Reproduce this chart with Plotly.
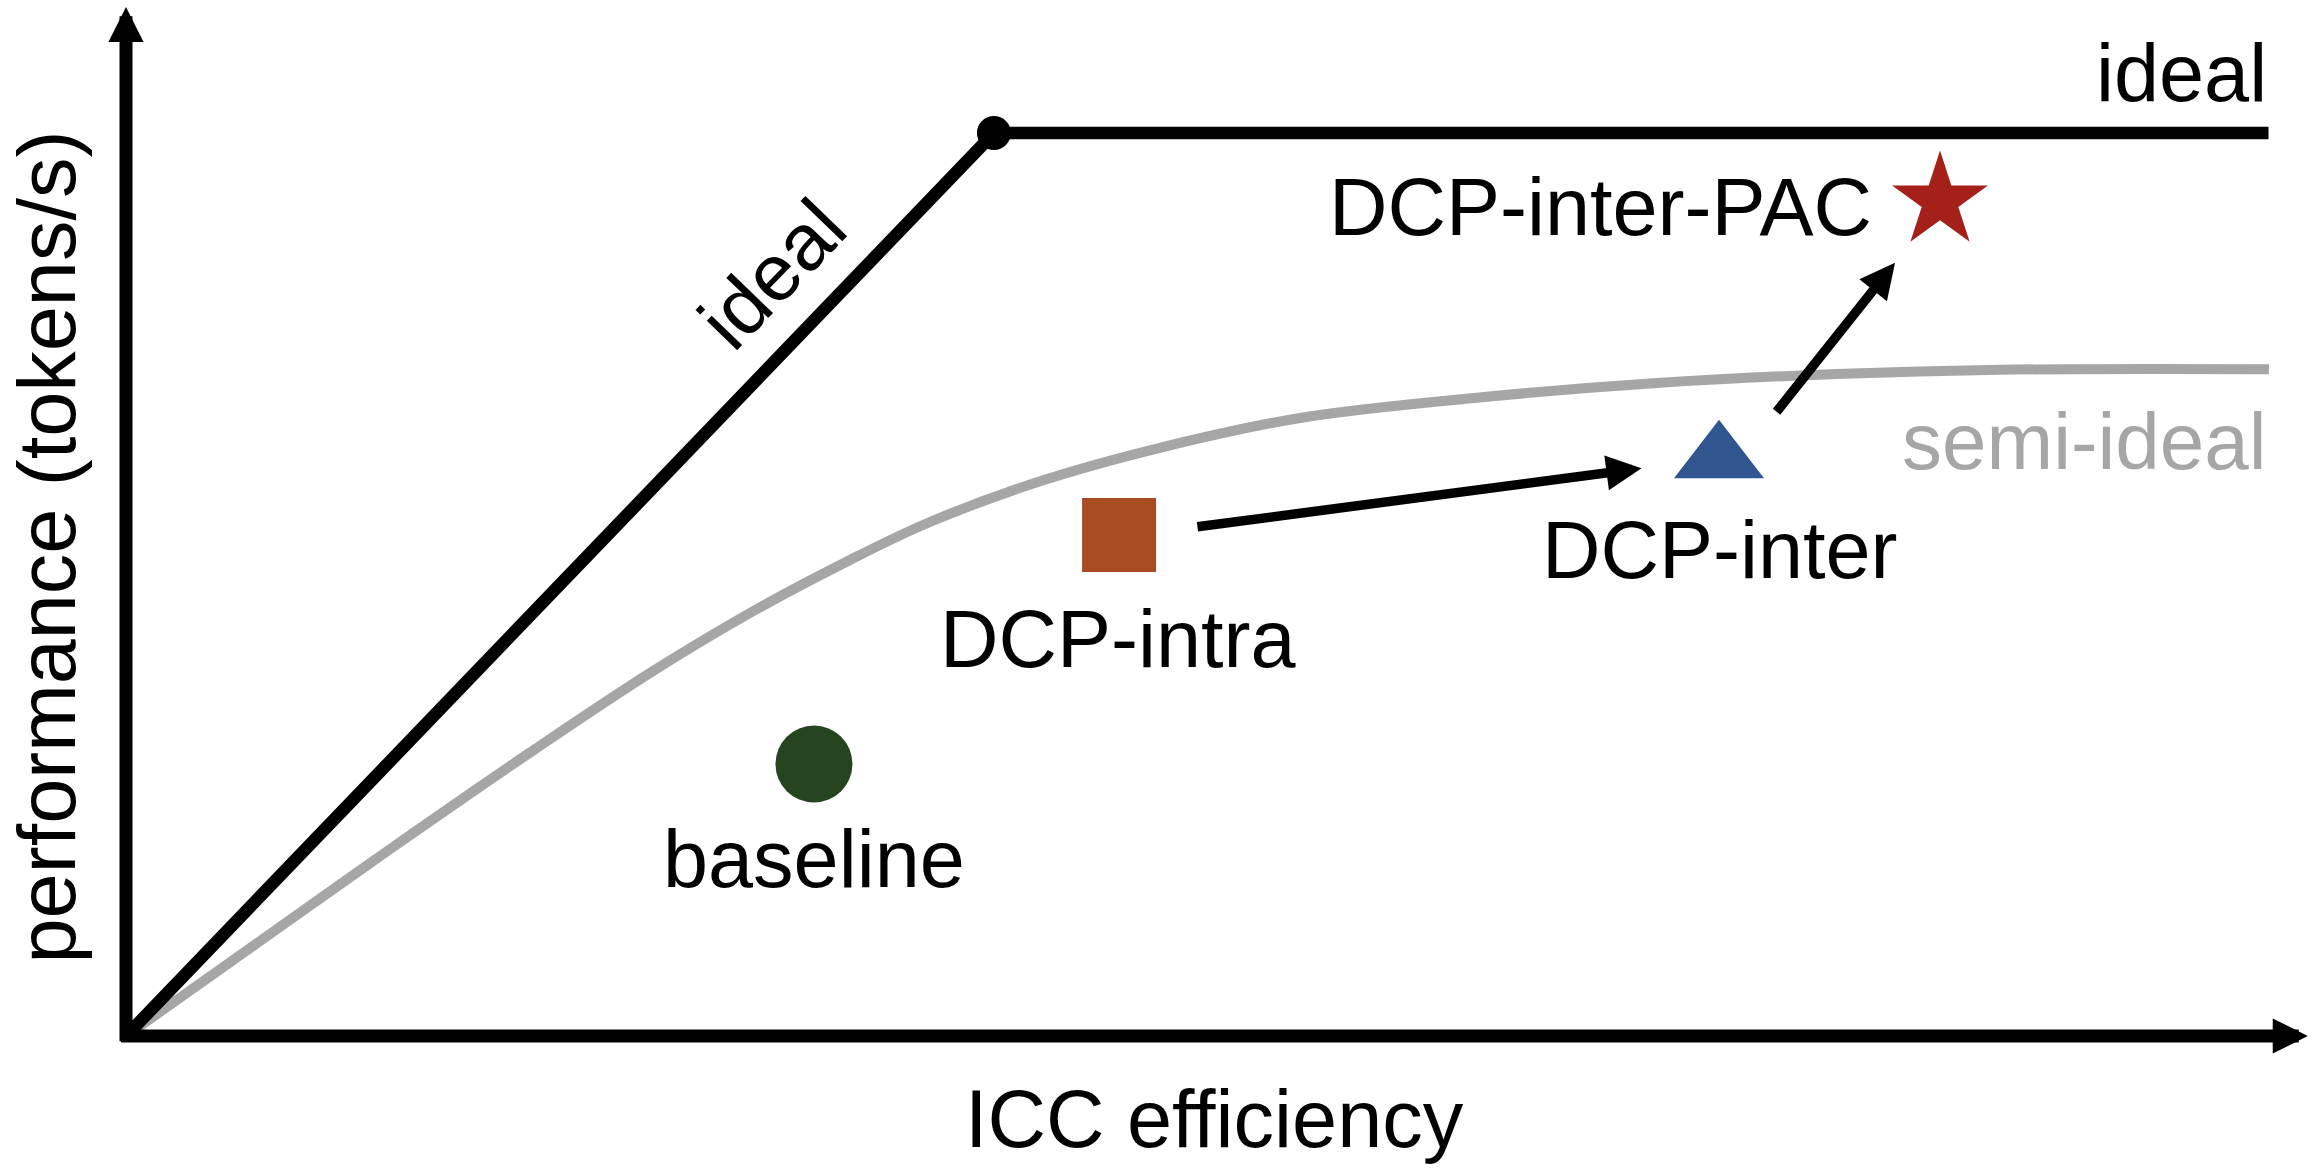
import plotly.graph_objects as go

# ---------------- data ----------------
# method points: ICC efficiency (x) vs performance (y), arbitrary 0-100 units
methods = ["baseline", "DCP-intra", "DCP-inter", "DCP-inter-PAC"]
efficiency = [31.5, 45.47, 72.94, 83.06]
performance = [26.43, 48.69, 56.1, 81.15]

# ideal roofline
ideal_x = [0, 39.74, 98.1]
ideal_y = [0, 87.75, 87.75]

# semi-ideal curve
semi_x = [0, 6.27, 12.36, 18.5, 23.99, 28.57, 33.15, 36.81, 42.03, 47.3,
          53.75, 61.95, 70.1, 78.3, 85.81, 98.12]
semi_y = [0, 9.43, 18.56, 27.55, 35.28, 41.11, 46.26, 49.95, 54.03, 57.14,
          60.06, 62.05, 63.46, 64.33, 64.75, 64.8]

# improvement arrows (tail -> head)
arrow_from_x = [48.99, 75.52]
arrow_from_y = [49.47, 60.52]
arrow_to_x = [69.39, 81.0]
arrow_to_y = [55.17, 75.15]

# ---------------- styles ----------------
FONT = "Liberation Sans, Arial, Helvetica, sans-serif"
m_symbols = ["circle", "square", "triangle-up", "star"]
m_colors = ["#274420", "#a84c24", "#30558f", "#a52018"]
m_sizes = [77, 74, 78, 72]
label_shift = [(0, -95, "center"), (-1, -104.5, "center"), (0.5, -91, "center"), (-66, -6, "right")]

fig = go.Figure()

fig.add_trace(go.Scatter(x=semi_x, y=semi_y, mode="lines",
                         line=dict(color="#a6a6a6", width=10, shape="spline", smoothing=1.0),
                         hoverinfo="skip", showlegend=False))
fig.add_trace(go.Scatter(x=ideal_x, y=ideal_y, mode="lines",
                         line=dict(color="black", width=12.5),
                         hoverinfo="skip", showlegend=False))
fig.add_trace(go.Scatter(x=[ideal_x[1]], y=[ideal_y[1]], mode="markers",
                         marker=dict(color="black", size=34),
                         hoverinfo="skip", showlegend=False))

for i, name in enumerate(methods):
    fig.add_trace(go.Scatter(x=[efficiency[i]], y=[performance[i]], mode="markers", name=name,
                             marker=dict(symbol=m_symbols[i], color=m_colors[i], size=m_sizes[i],
                                         line=dict(width=0)),
                             showlegend=False))

ann = []
# axes with arrowheads
ann.append(dict(x=0, y=100, ax=0, ay=-0.65, xref="x", yref="y", axref="x", ayref="y",
                text="", showarrow=True, arrowhead=2, arrowwidth=13, arrowsize=0.54,
                arrowcolor="black"))
ann.append(dict(x=99.9, y=0, ax=-0.3, ay=0, xref="x", yref="y", axref="x", ayref="y",
                text="", showarrow=True, arrowhead=2, arrowwidth=13, arrowsize=0.54,
                arrowcolor="black"))
# improvement arrows
for i in range(len(arrow_from_x)):
    ann.append(dict(x=arrow_to_x[i], y=arrow_to_y[i], ax=arrow_from_x[i], ay=arrow_from_y[i],
                    xref="x", yref="y", axref="x", ayref="y", text="", showarrow=True,
                    arrowhead=2, arrowwidth=9.5, arrowsize=0.74, arrowcolor="black"))
# method labels
for i, name in enumerate(methods):
    dx, dy, anc = label_shift[i]
    ann.append(dict(x=efficiency[i], y=performance[i], xref="x", yref="y", text=name,
                    showarrow=False, xanchor=anc, yanchor="middle", xshift=dx, yshift=dy,
                    font=dict(family=FONT, size=81, color="black")))
# line labels
ann.append(dict(x=ideal_x[2], y=ideal_y[2], xref="x", yref="y", text="ideal", showarrow=False,
                xanchor="right", yanchor="middle", yshift=60,
                font=dict(family=FONT, size=81, color="black")))
ann.append(dict(x=semi_x[-1], y=semi_y[-1], xref="x", yref="y", text="semi-ideal", showarrow=False,
                xanchor="right", yanchor="middle", yshift=-72,
                font=dict(family=FONT, size=80, color="#a6a6a6")))
ann.append(dict(x=29.58, y=74.0, xref="x", yref="y", text="ideal", showarrow=False,
                textangle=-46, xanchor="center", yanchor="middle",
                font=dict(family=FONT, size=80, color="black")))
# axis titles
ann.append(dict(x=0.4986, y=-0.0807, xref="paper", yref="paper", text="ICC efficiency",
                showarrow=False, xanchor="center", yanchor="middle",
                font=dict(family=FONT, size=81, color="black")))
ann.append(dict(x=-0.0362, y=0.4757, xref="paper", yref="paper", text="performance (tokens/s)",
                showarrow=False, textangle=-90, xanchor="center", yanchor="middle",
                font=dict(family=FONT, size=81, color="black")))

fig.update_layout(
    width=2318, height=1172,
    margin=dict(l=126, r=8, t=7, b=136, pad=0),
    paper_bgcolor="white", plot_bgcolor="white",
    xaxis=dict(range=[0, 100], visible=False, fixedrange=True),
    yaxis=dict(range=[0, 100], visible=False, fixedrange=True),
    annotations=ann,
    showlegend=False,
)

fig.write_html("out.html", config={"displayModeBar": False})
